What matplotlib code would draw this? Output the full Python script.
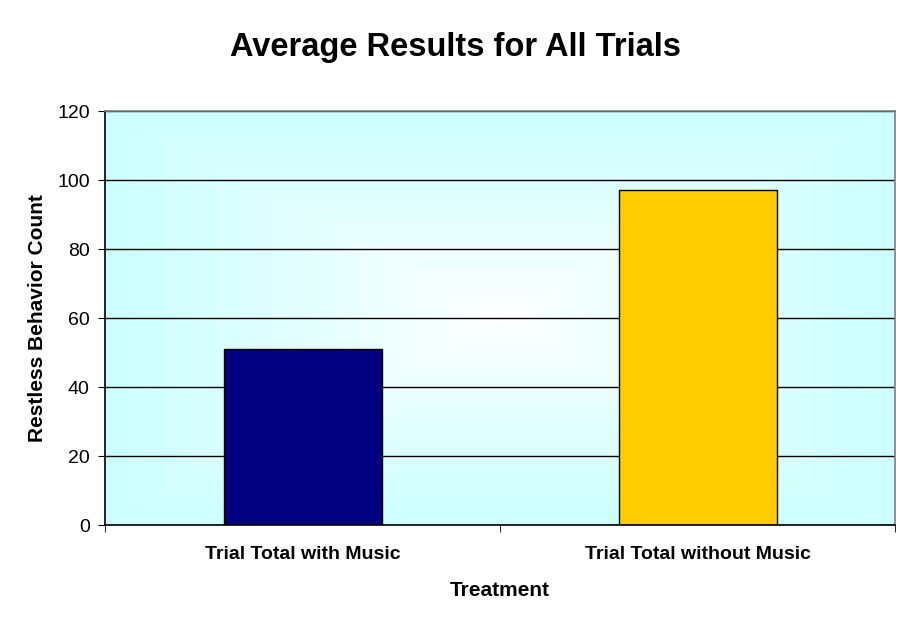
import numpy as np
import matplotlib.pyplot as plt
from matplotlib.colors import LinearSegmentedColormap

categories = ['Trial Total with Music', 'Trial Total without Music']
values = [51, 97]
bar_colors = ['#000080', '#FFCC00']
yticks = [0, 20, 40, 60, 80, 100, 120]

plt.rcParams['font.family'] = ['Liberation Sans', 'DejaVu Sans']

fig = plt.figure(figsize=(9.11, 6.23), dpi=100)
ax = fig.add_axes([0.1153, 0.1573, 0.8672, 0.6645])

# background gradient, white in the middle, cyan at the edges
gx, gy = np.meshgrid(np.linspace(-1, 1, 300), np.linspace(-1, 1, 300))
dist = np.clip(np.maximum(np.abs(gx), np.abs(gy)) ** 0.9, 0, 1)
cmap = LinearSegmentedColormap.from_list('bg', ['#FFFFFF', '#CCFFFF'])
ax.imshow(dist, cmap=cmap, extent=[0, 1, 0, 1], transform=ax.transAxes,
          aspect='auto', zorder=0, interpolation='bilinear')

x = np.arange(len(categories))
ax.bar(x, values, width=0.4, color=bar_colors, edgecolor='black',
       linewidth=1, zorder=3)

ax.set_xlim(-0.5, len(categories) - 0.5)
ax.set_ylim(0, 120)
ax.set_yticks(yticks)
ax.yaxis.grid(True, color='black', linewidth=1)
ax.set_axisbelow(False)
for gl in ax.get_ygridlines():
    gl.set_zorder(2)

ax.set_xticks(x)
ax.set_xticklabels(categories, fontsize=14, fontweight='bold')
ax.set_xticks([-0.5, 0.5, 1.5], minor=True)
ax.tick_params(axis='x', which='major', length=0, pad=15)
ax.tick_params(axis='x', which='minor', length=5, direction='out', color='black')
ax.tick_params(axis='y', length=5, direction='out', labelsize=14, pad=6)

ax.spines['left'].set_color('black')
ax.spines['bottom'].set_color('black')
ax.spines['top'].set_color('#808080')
ax.spines['right'].set_color('#808080')
for s in ax.spines.values():
    s.set_linewidth(1.2)
    s.set_zorder(4)

ax.set_xlabel('Treatment', fontsize=15, fontweight='bold', labelpad=13)
ax.set_ylabel('Restless Behavior Count', fontsize=15, fontweight='bold', labelpad=7)
fig.text(0.4995, 0.924, 'Average Results for All Trials', fontsize=23.5,
         fontweight='bold', ha='center', va='center')

fig.savefig('out.png', dpi=100)
